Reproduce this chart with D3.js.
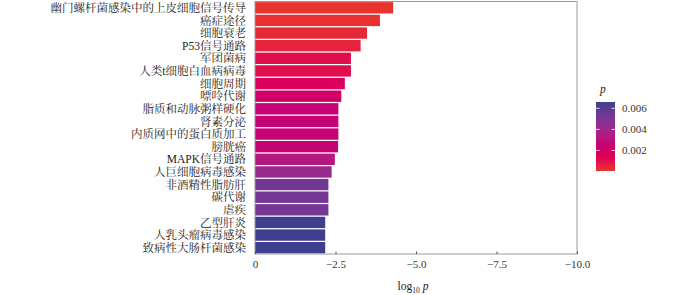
<!DOCTYPE html>
<html><head><meta charset="utf-8">
<script src="https://cdn.jsdelivr.net/npm/d3@7"></script>
<style>
html,body{margin:0;padding:0;background:#fff;}
svg{display:block;}
.lab{font-family:"Liberation Serif","Noto Serif CJK SC","Noto Sans CJK SC",serif;}
</style></head>
<body>
<svg id="chart" width="700" height="295"></svg>
<script>
const categories = [
  "幽门螺杆菌感染中的上皮细胞信号传导","癌症途径","细胞衰老","P53信号通路","军团菌病",
  "人类t细胞白血病病毒","细胞周期","嘌呤代谢","脂质和动脉粥样硬化","肾素分泌",
  "内质网中的蛋白质加工","膀胱癌","MAPK信号通路","人巨细胞病毒感染","非酒精性脂肪肝",
  "碳代谢","虐疾","乙型肝炎","人乳头瘤病毒感染","致病性大肠杆菌感染"
];
const log10p = [-4.29,-3.88,-3.48,-3.28,-2.98,-2.98,-2.79,-2.68,-2.59,-2.59,
                -2.59,-2.58,-2.48,-2.38,-2.28,-2.28,-2.28,-2.18,-2.18,-2.18];
const pValues = [0.000051,0.00013,0.00033,0.00052,0.00105,0.00105,0.0016,0.0021,0.0026,0.0026,
                 0.0026,0.0026,0.0033,0.0042,0.0052,0.0052,0.0052,0.0066,0.0066,0.0066];
const xTicks = [0,-2.5,-5,-7.5,-10];
const legendTicks = [0.002,0.004,0.006];

const svg = d3.select("#chart");
const panel = {left:255, right:577, top:1.5, bottom:254};

const x = d3.scaleLinear().domain([0,-10]).range([panel.left, panel.right]);
const y = d3.scaleBand().domain(categories).range([panel.top, panel.bottom])
  .paddingInner(0.1).paddingOuter(0.05);
const pExt = d3.extent(pValues);
const color = d3.scaleLinear().domain(pExt).range(["#E8332E","#3F3F8F"]).interpolate(d3.interpolateHcl);

// bars
svg.append("g").selectAll("rect").data(categories).join("rect")
  .attr("x", x(0))
  .attr("y", d => y(d))
  .attr("width", (d,i) => x(log10p[i]) - x(0))
  .attr("height", y.bandwidth())
  .attr("fill", (d,i) => color(pValues[i]));

// panel border
svg.append("rect").attr("x", panel.left).attr("y", panel.top)
  .attr("width", panel.right-panel.left).attr("height", panel.bottom-panel.top)
  .attr("fill","none").attr("stroke","#9a9a9a").attr("stroke-width",1);

// y labels
svg.append("g").selectAll("text").data(categories).join("text")
  .attr("class","lab")
  .attr("x", 246)
  .attr("y", d => y(d) + y.bandwidth()/2)
  .attr("dy","0.36em")
  .attr("text-anchor","end")
  .attr("font-size","11.5px")
  .attr("fill","#222")
  .text(d => d);

// x axis
const fmt = v => v === 0 ? "0" : d3.format(".1f")(v);
const xAxis = d3.axisBottom(x).tickValues(xTicks).tickFormat(fmt).tickSize(-2.5).tickPadding(6);
const gx = svg.append("g").attr("transform",`translate(0,${panel.bottom})`).call(xAxis);
gx.select(".domain").remove();
gx.selectAll(".tick line").attr("stroke","#555");
gx.selectAll(".tick text").attr("class","lab").attr("font-size","11px").attr("fill","#333");

// x title
const xt = svg.append("text").attr("class","lab")
  .attr("x",(panel.left+panel.right)/2 - 3).attr("y",290)
  .attr("text-anchor","middle").attr("font-size","11.5px").attr("fill","#222");
xt.append("tspan").text("log");
xt.append("tspan").attr("font-size","7.5px").attr("dy","3").text("10");
xt.append("tspan").attr("dy","-3").attr("font-style","italic").text(" p");

// legend colorbar
const lg = {x:596, w:19, top:102, bottom:171};
const ly = d3.scaleLinear().domain(pExt).range([lg.bottom, lg.top]);
const defs = svg.append("defs");
const grad = defs.append("linearGradient").attr("id","cb")
  .attr("x1","0").attr("y1","1").attr("x2","0").attr("y2","0");
d3.range(0,1.0001,0.05).forEach(t => {
  grad.append("stop").attr("offset", t).attr("stop-color", color(pExt[0] + t*(pExt[1]-pExt[0])));
});
svg.append("rect").attr("x",lg.x).attr("y",lg.top).attr("width",lg.w)
  .attr("height",lg.bottom-lg.top).attr("fill","url(#cb)");
const lt = svg.append("g").selectAll("g").data(legendTicks).join("g")
  .attr("transform", d => `translate(0,${ly(d)})`);
lt.append("line").attr("x1",lg.x).attr("x2",lg.x+3.5).attr("stroke","#fff").attr("stroke-opacity",0.8);
lt.append("line").attr("x1",lg.x+lg.w-3.5).attr("x2",lg.x+lg.w).attr("stroke","#fff").attr("stroke-opacity",0.8);
lt.append("text").attr("class","lab").attr("x",622).attr("dy","0.35em")
  .attr("font-size","11px").attr("fill","#333").text(d => d3.format(".3f")(d));
svg.append("text").attr("class","lab").attr("x",600).attr("y",93)
  .attr("font-style","italic").attr("font-size","11.5px").attr("fill","#222").text("p");
</script>
</body></html>
